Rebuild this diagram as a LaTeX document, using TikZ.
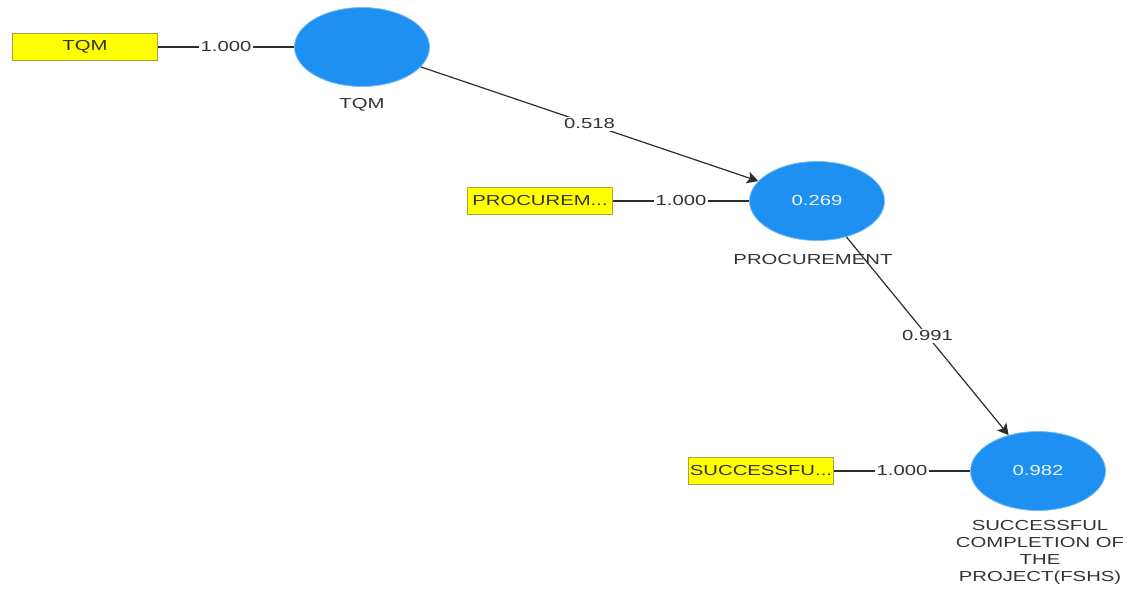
\documentclass[tikz,border=0pt]{standalone}
\usepackage{fontspec}
\usetikzlibrary{shapes.geometric,arrows.meta}
\newfontfamily\diafont[FakeStretch=1.4]{Liberation Sans}
\definecolor{latblue}{RGB}{30,144,242}
\definecolor{indyellow}{RGB}{255,255,0}
\definecolor{indborder}{RGB}{170,160,60}
\definecolor{linegray}{RGB}{45,45,45}
\begin{document}
\begin{tikzpicture}[x=1pt,y=-1pt,
  every node/.style={font=\diafont\fontsize{14.5}{17}\selectfont, text=black!80},
  latent/.style={ellipse, fill=latblue, draw=latblue!60!white, line width=0.8pt,
    minimum width=135pt, minimum height=79pt, inner sep=0pt, text=white!92!latblue},
  indicator/.style={rectangle, fill=indyellow, draw=indborder, line width=0.8pt,
    minimum width=145pt, minimum height=27pt, inner sep=1pt},
  conn/.style={draw=linegray, line width=1.2pt},
  path/.style={conn, -{Stealth[length=11pt,width=12pt,inset=2.5pt]}},
  wlabel/.style={fill=white, inner sep=2pt},
  caption/.style={align=center, inner sep=0pt}
]
\useasboundingbox (0,0) rectangle (1141,589);

% latent variables
\node[latent] (tqm) at (362,47) {};
\node[latent] (proc) at (817,201) {0.269};
\node[latent] (succ) at (1038,471) {0.982};

% indicators
\node[indicator] (itqm) at (85,47) {TQM};
\node[indicator] (iproc) at (540,201) {PROCUREM...};
\node[indicator] (isucc) at (761,471) {SUCCESSFU...};

% captions
\node[caption] (ctqm) at (362,105) {TQM};
\node[caption] (cproc) at (813,260) {PROCUREMENT};
\node[caption, anchor=north] (csucc) at (1040,520) {SUCCESSFUL\\COMPLETION OF\\THE\\PROJECT(FSHS)};

% outer model
\path[conn] (itqm.east) -- node[wlabel] (l1) {1.000} (tqm.west);
\path[conn] (iproc.east) -- node[wlabel] (l2) {1.000} (proc.west);
\path[conn] (isucc.east) -- node[wlabel] (l3) {1.000} (succ.west);

% inner model
\path[path] (tqm) -- node[wlabel] (p1) {0.518} (proc);
\path[path] (proc) -- node[wlabel] (p2) {0.991} (succ);
\end{tikzpicture}
\end{document}
